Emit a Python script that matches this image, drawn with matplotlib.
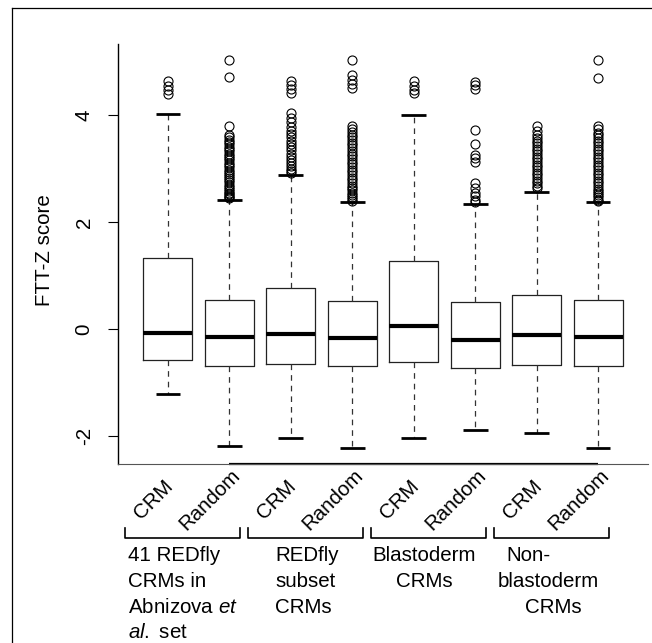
import matplotlib
matplotlib.use("Agg")
import matplotlib.pyplot as plt
from matplotlib.lines import Line2D
from matplotlib import transforms

plt.rcParams['font.family'] = ['Liberation Sans', 'DejaVu Sans']
plt.rcParams['mathtext.fontset'] = 'custom'
plt.rcParams['mathtext.rm'] = 'Liberation Sans'
plt.rcParams['mathtext.it'] = 'Liberation Sans:italic'

# ---------------- data ----------------
box_labels = ["CRM", "Random", "CRM", "Random", "CRM", "Random", "CRM", "Random"]
medians = [-0.07, -0.14, -0.09, -0.16, 0.06, -0.21, -0.11, -0.14]
q1 = [-0.57, -0.70, -0.65, -0.70, -0.61, -0.72, -0.67, -0.69]
q3 = [1.33, 0.55, 0.77, 0.53, 1.27, 0.51, 0.63, 0.55]
whislo = [-1.21, -2.18, -2.03, -2.22, -2.03, -1.88, -1.94, -2.22]
whishi = [4.02, 2.41, 2.87, 2.37, 4.00, 2.33, 2.57, 2.37]

fliers_1 = [4.39, 4.46, 4.55, 4.64]
fliers_2 = [5.03, 4.71, 3.79, 3.62, 3.58, 3.54, 3.50, 3.45, 3.41, 3.37, 3.33, 3.28,
            3.24, 3.20, 3.15, 3.11, 3.07, 3.02, 2.98, 2.94, 2.90, 2.86, 2.82, 2.78,
            2.74, 2.70, 2.66, 2.62, 2.58, 2.55, 2.52, 2.49, 2.46, 2.44]
fliers_3 = [4.64, 4.56, 4.48, 4.41, 4.03, 3.94, 3.86, 3.78, 3.70, 3.64, 3.58, 3.52,
            3.46, 3.40, 3.34, 3.28, 3.22, 3.16, 3.10, 3.05, 3.00, 2.96, 2.92]
fliers_4 = [5.03, 4.74, 4.66, 4.58, 4.50, 3.80, 3.74, 3.68, 3.63, 3.58, 3.53, 3.48,
            3.43, 3.38, 3.33, 3.28, 3.23, 3.18, 3.13, 3.08, 3.03, 2.98, 2.93, 2.88,
            2.83, 2.78, 2.73, 2.68, 2.63, 2.59, 2.55, 2.51, 2.47, 2.43, 2.40]
fliers_5 = [4.63, 4.55, 4.47, 4.41]
fliers_6 = [4.62, 4.56, 4.49, 3.72, 3.45, 3.25, 3.19, 3.13, 2.72, 2.63, 2.55, 2.48,
            2.41, 2.37]
fliers_7 = [3.79, 3.70, 3.63, 3.57, 3.52, 3.47, 3.42, 3.37, 3.32, 3.27, 3.22, 3.17,
            3.12, 3.07, 3.02, 2.97, 2.92, 2.87, 2.82, 2.77, 2.72, 2.67, 2.63]
fliers_8 = [5.03, 4.70, 3.79, 3.73, 3.67, 3.62, 3.57, 3.52, 3.47, 3.42, 3.37, 3.32,
            3.27, 3.22, 3.17, 3.12, 3.07, 3.02, 2.97, 2.92, 2.87, 2.82, 2.77, 2.72,
            2.67, 2.62, 2.58, 2.54, 2.50, 2.46, 2.42, 2.40]
fliers = [fliers_1, fliers_2, fliers_3, fliers_4, fliers_5, fliers_6, fliers_7, fliers_8]

y_ticks = [-2, 0, 2, 4]
y_tick_labels = ["-2", "0", "2", "4"]
y_label = "FTT-Z score"

group_lines = [
    [("41 REDfly", 'left', 128), ("CRMs in", 'left', 128),
     (r"Abnizova $\mathit{et}$", 'left', 128), (r"$\mathit{al.}$set", 'left', 128)],
    [("REDfly", 'left', 275), ("subset", 'left', 275), ("CRMs", 'left', 275)],
    [("Blastoderm", 'center', 424), ("CRMs", 'center', 424)],
    [("Non-", 'center', 528), ("blastoderm", 'center', 548), ("CRMs", 'center', 553)],
]

FS = 14.8

# ---------------- figure ----------------
W, H = 652, 643
fig = plt.figure(figsize=(W / 100, H / 100), dpi=100)

def fx(px):
    return px / W

def fy(py):
    return 1 - py / H

ax = fig.add_axes([fx(118), fy(464), fx(648) - fx(118), fy(44) - fy(464)])

positions = list(range(1, len(medians) + 1))
stats = []
for i in range(len(medians)):
    stats.append(dict(med=medians[i], q1=q1[i], q3=q3[i],
                      whislo=whislo[i], whishi=whishi[i], fliers=fliers[i]))

ax.bxp(stats, positions=positions, widths=0.8, capwidths=0.4, showfliers=True,
       boxprops=dict(color='#222222', linewidth=0.9),
       medianprops=dict(color='black', linewidth=3.0, solid_capstyle='butt'),
       whiskerprops=dict(color='#333333', linewidth=0.9, linestyle=(0, (4.5, 4))),
       capprops=dict(color='black', linewidth=2.0, solid_capstyle='butt'),
       flierprops=dict(marker='o', markersize=6.5, markerfacecolor='none',
                       markeredgecolor='black', markeredgewidth=0.8, linestyle='none'))

ax.set_xlim(0.19, 8.81)
ax.set_ylim(-2.523, 5.327)

for s in ['top', 'right']:
    ax.spines[s].set_visible(False)
ax.spines['left'].set_linewidth(1.0)
ax.spines['bottom'].set_linewidth(0.8)
ax.spines['bottom'].set_color('#555555')

ax.plot([positions[1], positions[-1]], [ax.get_ylim()[0]] * 2, color='black',
        linewidth=1.6, clip_on=False, solid_capstyle='butt')

ax.set_xticks([])
ax.set_yticks(y_ticks)
ax.set_yticklabels(y_tick_labels, fontsize=FS, rotation=90)
for lbl in ax.get_yticklabels():
    lbl.set_va('center')
ax.tick_params(axis='y', length=7.5, width=0.8, pad=10, direction='out')

fig.text(fx(45), fy(250), y_label, rotation=90, ha='center', va='center', fontsize=FS)

blend = transforms.blended_transform_factory(ax.transData, fig.transFigure)
label_dx = {"CRM": -14, "Random": -19}
for p, lab in zip(positions, box_labels):
    tr = transforms.offset_copy(blend, fig=fig, x=label_dx[lab], y=0, units='dots')
    ax.text(p, fy(500), lab, transform=tr, rotation=45, rotation_mode='anchor',
            ha='center', va='center', fontsize=FS, clip_on=False)

bracket_y = fy(538)
bracket_top = fy(528)
for g in range(4):
    left_pos = positions[2 * g]
    right_pos = positions[2 * g + 1]
    trl = transforms.offset_copy(blend, fig=fig, x=-43, y=0, units='dots')
    trr = transforms.offset_copy(blend, fig=fig, x=11, y=0, units='dots')
    xl = trl.transform((left_pos, bracket_y))[0]
    xr = trr.transform((right_pos, bracket_y))[0]
    fxl, fxr = xl / W, xr / W
    fig.add_artist(Line2D([fxl, fxl, fxr, fxr], [bracket_top, bracket_y, bracket_y, bracket_top],
                          color='black', linewidth=1.2, transform=fig.transFigure))

# baselines of the caption lines (px from top)
line_ys = [561, 587, 613, 638]
for lines in group_lines:
    for (txt, al, xpx), ypx in zip(lines, line_ys):
        t = txt.replace("$set", "$ set")
        fig.text(fx(xpx), fy(ypx), t, ha=al, va='baseline', fontsize=FS)

fig.add_artist(Line2D([fx(12), fx(12)], [0, fy(8)], color='black', linewidth=0.9,
                      transform=fig.transFigure))
fig.add_artist(Line2D([fx(12), 1], [fy(8), fy(8)], color='black', linewidth=0.9,
                      transform=fig.transFigure))

fig.savefig("out.png", dpi=100)
